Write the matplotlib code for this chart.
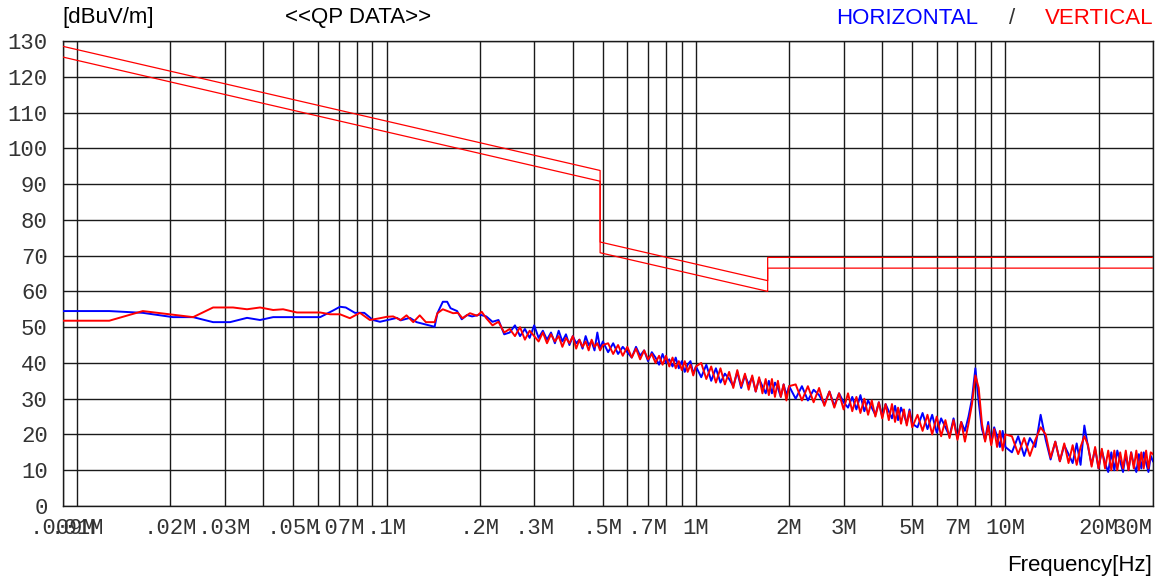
import numpy as np
import matplotlib
matplotlib.use('Agg')
import matplotlib.pyplot as plt
from matplotlib.ticker import FixedLocator, NullLocator

# ---- data (frequencies in MHz, levels in dBuV/m) ----
# limit line and the -3 dB margin line
lim_freq = [0.009, 0.49, 0.49, 1.705, 1.705, 30.0]
lim_upper = [128.5, 93.8, 73.8, 63.0, 69.5, 69.5]
lim_lower = [125.5, 90.8, 70.8, 60.0, 66.5, 66.5]

# low band (smooth part) of each trace
hor_low_freq = [0.009, 0.0127, 0.0163, 0.0204, 0.0237, 0.0275, 0.0312, 0.0354, 0.039,
                0.043, 0.061, 0.067, 0.0707, 0.0738, 0.079, 0.0847, 0.0904, 0.0952,
                0.108, 0.111, 0.119, 0.125, 0.143, 0.146, 0.152, 0.157, 0.161, 0.169,
                0.175, 0.182, 0.189, 0.2]
hor_low_level = [54.5, 54.5, 54.0, 52.8, 52.8, 51.4, 51.4, 52.6, 52.0,
                 52.8, 52.8, 54.6, 55.7, 55.5, 54.0, 54.0, 52.0, 51.5,
                 52.6, 51.9, 52.6, 51.4, 50.1, 53.9, 57.1, 57.1, 55.3, 54.5,
                 52.2, 53.4, 53.0, 53.5]
ver_low_freq = [0.009, 0.0127, 0.0163, 0.0237, 0.0275, 0.0319, 0.0354, 0.039, 0.043,
                0.0463, 0.0513, 0.061, 0.0657, 0.0707, 0.0761, 0.082, 0.0883, 0.0952,
                0.1003, 0.105, 0.111, 0.116, 0.122, 0.128, 0.134, 0.143, 0.146, 0.152,
                0.164, 0.170, 0.176, 0.186, 0.196, 0.203]
ver_low_level = [51.8, 51.8, 54.5, 52.8, 55.5, 55.5, 55.0, 55.5, 54.8,
                 55.0, 54.1, 54.1, 53.6, 53.6, 52.5, 54.0, 52.0, 52.5,
                 52.9, 53.0, 52.0, 53.3, 51.4, 53.3, 51.4, 51.4, 53.9, 55.0,
                 53.9, 54.0, 52.5, 53.9, 53.2, 54.3]

# high band sweep (shared frequencies)
sweep_freq = [
    0.21, 0.22, 0.23, 0.24, 0.25, 0.26, 0.27, 0.28, 0.29, 0.30,
    0.31, 0.32, 0.33, 0.34, 0.35, 0.36, 0.37, 0.38, 0.39, 0.40,
    0.41, 0.42, 0.43, 0.44, 0.45, 0.46, 0.47, 0.48, 0.49, 0.50,
    0.52, 0.54, 0.56, 0.58, 0.60, 0.62, 0.64, 0.66, 0.68, 0.70,
    0.72, 0.74, 0.76, 0.78, 0.80, 0.82, 0.84, 0.86, 0.88, 0.90,
    0.92, 0.94, 0.96, 0.98, 1.00,
    1.04, 1.08, 1.12, 1.16, 1.20, 1.24, 1.28, 1.32, 1.36, 1.40,
    1.44, 1.48, 1.52, 1.56, 1.60, 1.64, 1.68, 1.72, 1.76, 1.80,
    1.84, 1.88, 1.92, 1.96, 2.00,
    2.1, 2.2, 2.3, 2.4, 2.5, 2.6, 2.7, 2.8, 2.9, 3.0,
    3.1, 3.2, 3.3, 3.4, 3.5, 3.6, 3.7, 3.8, 3.9, 4.0,
    4.1, 4.2, 4.3, 4.4, 4.5, 4.6, 4.7, 4.8, 4.9, 5.0,
    5.2, 5.4, 5.6, 5.8, 6.0, 6.2, 6.4, 6.6, 6.8, 7.0,
    7.2, 7.4, 7.6, 7.8, 8.0, 8.2, 8.4, 8.6, 8.8, 9.0,
    9.2, 9.4, 9.6, 9.8, 10.0,
    10.5, 11.0, 11.5, 12.0, 12.5, 13.0, 13.5, 14.0, 14.5, 15.0,
    15.5, 16.0, 16.5, 17.0, 17.5, 18.0, 18.5, 19.0, 19.5, 20.0,
    20.5, 21.0, 21.5, 22.0, 22.5, 23.0, 23.5, 24.0, 24.5, 25.0,
    25.5, 26.0, 26.5, 27.0, 27.5, 28.0, 28.5, 29.0, 29.5, 30.0]
hor_sweep = [
    53.0, 51.5, 52.0, 48.0, 48.5, 50.5, 47.5, 49.5, 47.0, 50.5,
    47.0, 49.0, 46.5, 48.5, 45.5, 49.0, 46.0, 48.0, 45.0, 47.5,
    45.5, 46.5, 44.0, 47.5, 45.0, 46.0, 43.5, 48.5, 44.0, 46.0,
    43.0, 45.5, 42.5, 44.5, 43.0, 41.5, 44.5, 42.0, 43.5, 40.5,
    43.0, 41.5, 39.5, 42.5, 40.0, 41.0, 39.0, 41.5, 38.5, 40.5,
    37.5, 39.5, 40.5, 37.0, 39.0,
    36.0, 39.5, 35.0, 38.5, 34.5, 37.0, 35.5, 33.5, 37.5, 33.0,
    36.5, 34.0, 36.0, 32.0, 35.5, 33.5, 31.5, 35.0, 31.5, 34.5,
    33.0, 30.5, 34.0, 31.0, 33.5,
    30.0, 33.5, 29.5, 32.5, 31.0, 28.5, 32.0, 28.0, 31.5, 29.0,
    27.5, 30.5, 27.0, 31.0, 26.5, 29.5, 27.5, 25.5, 29.0, 25.0,
    28.5, 26.5, 24.5, 28.0, 24.0, 27.5, 25.5, 23.0, 27.0, 23.0,
    22.0, 26.0, 21.5, 25.5, 20.5, 24.5, 22.0, 19.5, 24.5, 19.0,
    23.5, 21.0, 25.0, 30.0, 38.5, 29.0, 21.5, 18.5, 23.5, 17.5,
    22.0, 19.5, 16.5, 21.0, 16.5,
    15.0, 19.5, 14.0, 19.0, 16.5, 25.5, 18.5, 13.0, 18.0, 12.5,
    17.0, 14.5, 12.0, 17.5, 11.5, 22.5, 16.5, 11.5, 16.0, 10.5,
    15.5, 12.0, 9.5, 15.0, 10.0, 15.5, 12.5, 9.5, 14.5, 10.0,
    15.0, 11.5, 9.5, 14.5, 10.5, 15.0, 12.0, 9.5, 14.0, 12.5]
ver_sweep = [
    52.5, 50.5, 51.5, 48.5, 49.5, 47.5, 50.0, 46.5, 49.0, 47.5,
    46.0, 48.5, 45.5, 48.0, 46.0, 47.5, 44.5, 47.0, 45.5, 47.5,
    44.0, 46.5, 44.5, 46.0, 43.5, 46.5, 44.5, 45.5, 43.5, 45.0,
    45.5, 42.5, 45.0, 42.0, 44.5, 41.5, 44.0, 41.0, 43.5, 41.0,
    42.5, 40.0, 42.0, 39.5, 42.0, 39.0, 41.5, 38.5, 40.5, 38.0,
    40.5, 37.5, 39.5, 36.5, 39.0,
    40.0, 35.5, 39.0, 34.5, 38.5, 34.0, 37.5, 33.0, 38.0, 33.5,
    37.0, 32.5, 36.5, 32.0, 36.0, 31.5, 35.5, 31.0, 35.5, 30.5,
    35.0, 30.5, 34.0, 29.5, 33.5,
    34.0, 29.5, 33.5, 29.0, 33.0, 28.0, 32.0, 27.5, 31.5, 27.0,
    31.5, 26.5, 30.5, 26.0, 30.0, 25.5, 29.5, 25.0, 29.0, 24.5,
    28.5, 24.0, 28.5, 23.5, 27.5, 23.0, 27.0, 22.5, 26.5, 22.0,
    25.5, 21.0, 25.5, 20.0, 25.0, 19.5, 24.0, 19.0, 24.0, 18.5,
    23.5, 18.0, 23.0, 28.5, 36.5, 33.0, 23.0, 18.0, 22.5, 17.0,
    21.5, 16.5, 21.0, 15.5, 20.0,
    19.5, 14.5, 19.0, 14.0, 18.5, 22.0, 20.0, 13.5, 18.0, 12.5,
    17.5, 12.0, 17.0, 11.5, 16.5, 19.5, 17.0, 11.0, 16.5, 10.5,
    16.0, 10.5, 15.5, 10.0, 15.5, 10.0, 15.0, 10.5, 15.5, 10.0,
    15.0, 10.5, 15.5, 10.0, 15.0, 10.5, 15.5, 10.5, 15.0, 14.5]

grid_freq = [0.009, 0.01, 0.02, 0.03, 0.04, 0.05, 0.06, 0.07, 0.08, 0.09,
             0.1, 0.2, 0.3, 0.4, 0.5, 0.6, 0.7, 0.8, 0.9,
             1, 2, 3, 4, 5, 6, 7, 8, 9, 10, 20, 30]
label_freq = [0.009, 0.01, 0.02, 0.03, 0.05, 0.07, 0.1, 0.2, 0.3, 0.5, 0.7,
              1, 2, 3, 5, 7, 10, 20, 30]
label_text = ['.009M', '.01M', '.02M', '.03M', '.05M', '.07M', '.1M', '.2M', '.3M',
              '.5M', '.7M', '1M', '2M', '3M', '5M', '7M', '10M', '20M', '30M']
y_ticks = list(range(0, 131, 10))

hor_freq = hor_low_freq + sweep_freq
hor_level = hor_low_level + hor_sweep
ver_freq = ver_low_freq + sweep_freq
ver_level = ver_low_level + ver_sweep

W, H = 1160, 582
fig = plt.figure(figsize=(W / 100, H / 100), dpi=100)
ax = fig.add_axes([63 / W, 1 - 506 / H, (1153 - 63) / W, (506 - 41) / H])

ax.set_xscale('log')
ax.set_xlim(0.009, 30)
ax.set_ylim(0, 130)

# grid drawn by hand so every minor decade line shows
for f in grid_freq:
    ax.axvline(f, color='#1a1a1a', lw=1.0, zorder=1)
for v in y_ticks:
    ax.axhline(v, color='#1a1a1a', lw=1.0, zorder=1)

ax.plot(lim_freq, lim_upper, color='#ff0000', lw=0.9, zorder=3)
ax.plot(lim_freq, lim_lower, color='#ff0000', lw=0.9, zorder=3)

ax.plot(hor_freq, hor_level, color='#0000ff', lw=1.4, zorder=4)
ax.plot(ver_freq, ver_level, color='#ff0000', lw=1.4, zorder=5)

ax.xaxis.set_major_locator(FixedLocator(label_freq))
ax.xaxis.set_minor_locator(NullLocator())
ax.set_xticklabels(label_text)
ax.set_yticks(y_ticks)
ax.tick_params(length=0, colors='#333333', labelsize=16)
ax.tick_params(axis='y', pad=11)
ax.tick_params(axis='x', pad=9)
for lab in ax.get_xticklabels() + ax.get_yticklabels():
    lab.set_fontfamily('Liberation Mono')
ax.get_xticklabels()[-1].set_horizontalalignment('right')
for sp in ax.spines.values():
    sp.set_color('#1a1a1a')
    sp.set_linewidth(1.0)

sans = 'Liberation Sans'
fs = 16
fig.text(62 / W, 1 - 18 / H, '[dBuV/m]', fontsize=fs, family=sans, va='center', ha='left')
fig.text(285 / W, 1 - 18 / H, '<<QP DATA>>', fontsize=fs, family=sans, va='center', ha='left')
fig.text(836 / W, 1 - 18 / H, 'HORIZONTAL', fontsize=fs, family=sans, va='center', ha='left', color='#0000ff')
fig.text(1012 / W, 1 - 18 / H, '/', fontsize=fs, family=sans, va='center', ha='center', color='#333333')
fig.text(1153 / W, 1 - 18 / H, 'VERTICAL', fontsize=fs, family=sans, va='center', ha='right', color='#ff0000')
fig.text(1152 / W, 1 - 566 / H, 'Frequency[Hz]', fontsize=fs, family=sans, va='center', ha='right')

fig.savefig('out.png', dpi=100)
